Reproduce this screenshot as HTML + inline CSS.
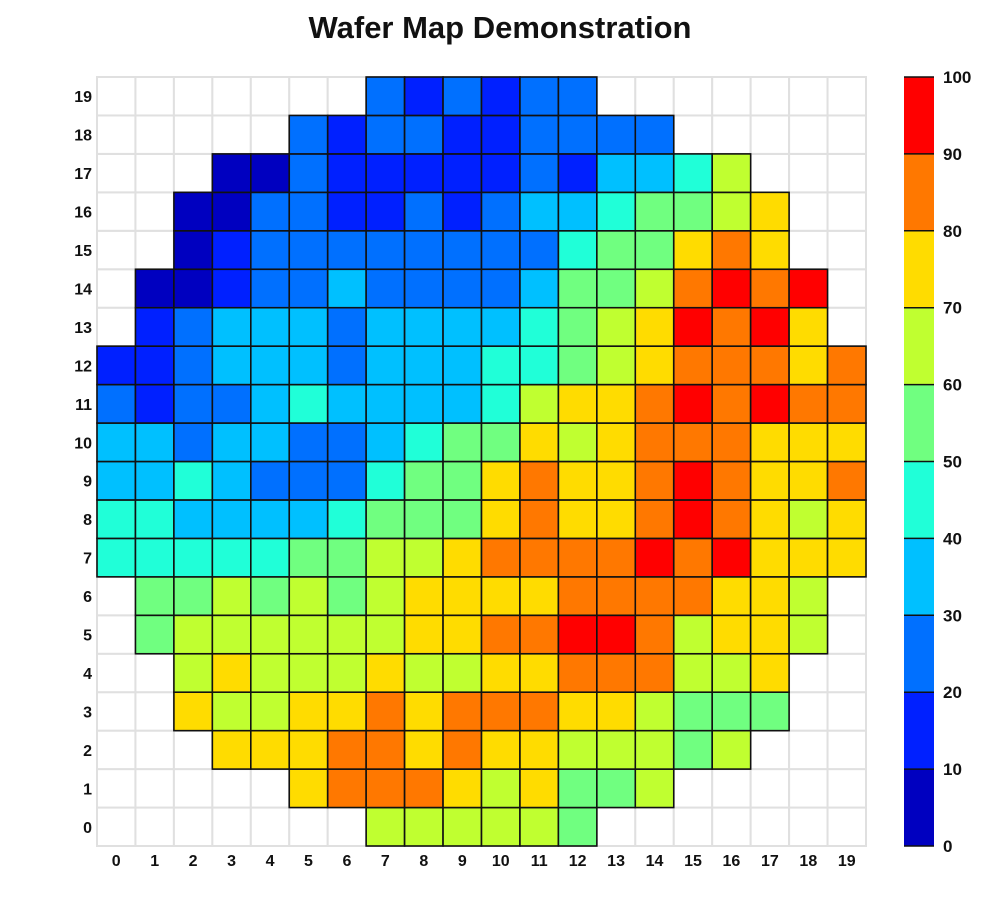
<!DOCTYPE html>
<html><head><meta charset="utf-8"><style>
html,body{margin:0;padding:0;background:#fff;width:1000px;height:920px;overflow:hidden}
text{font-family:"Liberation Sans",Arial,sans-serif}
</style></head><body>
<svg id="s" width="1000" height="920" xmlns="http://www.w3.org/2000/svg">
<text x="500" y="38" text-anchor="middle" font-size="31" font-weight="bold" fill="#111">Wafer Map Demonstration</text>
</svg>
<script>
var rows={
19:".......cbcbcc.......",
18:".....cbccbbcccc.....",
17:"...aacbbbbbcbddeg...",
16:"..aaccbbcbcddeffgh..",
15:"..abcccccccceffhih..",
14:".aabccdccccdffgijij.",
13:".bcdddcddddefghjijh.",
12:"bbcdddcdddeefghiiihi",
11:"cbccdeddddeghhijijii",
10:"ddcddccdeffhghiiihhh",
9:"ddedccceffhihhijihhi",
8:"eeddddefffhihhijihgh",
7:"eeeeeffgghiiiijijhhh",
6:".ffgfgfghhhhiiiihhg.",
5:".fgggggghhiijjighhg.",
4:"..ghggghgghhiiiggh..",
3:"..hgghhihiiihhgfff..",
2:"...hhhiihihhgggfg...",
1:".....hiiihghffg.....",
0:".......gggggf......."
};
var col={a:"#0000C0",b:"#0020FF",c:"#0070FF",d:"#00C0FF",e:"#20FFD8",f:"#70FF80",g:"#C0FF30",h:"#FFDC00",i:"#FF7800",j:"#FF0000"};
var s=document.getElementById("s"),NS="http://www.w3.org/2000/svg";
function el(t,a,txt){var e=document.createElementNS(NS,t);for(var k in a)e.setAttribute(k,a[k]);if(txt!==undefined)e.textContent=txt;s.appendChild(e);return e;}
var x0=97,y0=77,cw=38.45;
for(var r=0;r<20;r++)for(var c=0;c<20;c++){
 el("rect",{x:x0+c*cw,y:y0+(19-r)*cw,width:cw,height:cw,fill:"#fff",stroke:"#e0e0e0","stroke-width":2});
}
for(var r=0;r<20;r++){var str=rows[r];for(var c=0;c<20;c++){var ch=str[c];if(ch&&col[ch]){
 el("rect",{x:x0+c*cw,y:y0+(19-r)*cw,width:cw,height:cw,fill:col[ch],stroke:"#111","stroke-width":1.6});
}}}
for(var i=0;i<20;i++){
 el("text",{x:92,y:y0+(19-i)*cw+cw/2+6,"text-anchor":"end","font-size":16,"font-weight":"bold",fill:"#111"},String(i));
 el("text",{x:x0+i*cw+cw/2,y:866,"text-anchor":"middle","font-size":16,"font-weight":"bold",fill:"#111"},String(i));
}
var cbx=904,cby=77,cbh=769,cbw=30,keys="abcdefghij";
for(var k=0;k<10;k++){
 var yy=cby+cbh-(k+1)*cbh/10;
 el("rect",{x:cbx,y:yy,width:cbw,height:cbh/10,fill:col[keys[k]]});
}
for(var k=0;k<=10;k++){
 var yy=cby+cbh-k*cbh/10;
 el("line",{x1:cbx,x2:cbx+cbw,y1:yy,y2:yy,stroke:"#111","stroke-width":1.5});
 el("text",{x:943,y:yy+6,"font-size":17,"font-weight":"bold",fill:"#111"},String(k*10));
}
</script>
</body></html>
